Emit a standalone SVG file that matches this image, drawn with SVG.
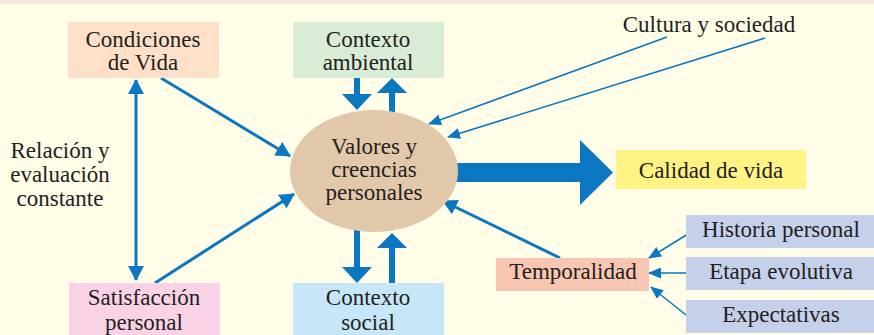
<svg xmlns="http://www.w3.org/2000/svg" width="874" height="335" viewBox="0 0 874 335">
<style>
text{font-family:"Liberation Serif","Times New Roman",serif;font-size:23px;fill:#231f20;text-anchor:middle}
.lbl{text-anchor:middle}
.c{stroke:#0a77c0;fill:none}
.m{stroke-width:3}
.t{stroke-width:1.6}
.blk{fill:#0a77c0}
</style>
<defs>
<marker id="am" viewBox="0 0 15 16" refX="14" refY="8" markerWidth="15" markerHeight="16" markerUnits="userSpaceOnUse" orient="auto-start-reverse">
<path d="M0,0 L15,8 L0,16 z" fill="#0a77c0"/>
</marker>
<marker id="at" viewBox="0 0 13 11" refX="12" refY="5.5" markerWidth="13" markerHeight="11" markerUnits="userSpaceOnUse" orient="auto">
<path d="M0,0 L13,5.5 L0,11 z" fill="#0a77c0"/>
</marker>
</defs>
<rect x="0" y="0" width="874" height="335" fill="#fffde8"/>
<rect x="0" y="0" width="874" height="4" fill="#f3e6dc"/>
<g id="connectors">
<line class="c m" x1="136" y1="80" x2="136" y2="280" marker-start="url(#am)" marker-end="url(#am)"/>
<line class="c m" x1="161" y1="78" x2="290" y2="156" marker-end="url(#am)"/>
<line class="c m" x1="155" y1="283" x2="294" y2="194" marker-end="url(#am)"/>
<line class="c m" x1="560" y1="258" x2="443" y2="201" marker-end="url(#am)"/>
<line class="c t" x1="667" y1="37" x2="429" y2="124" marker-end="url(#at)"/>
<line class="c t" x1="765" y1="38" x2="448" y2="137" marker-end="url(#at)"/>
<line class="c t" x1="688" y1="234" x2="649" y2="258" marker-end="url(#at)"/>
<line class="c t" x1="686" y1="273" x2="649" y2="273" marker-end="url(#at)"/>
<line class="c t" x1="686" y1="315" x2="651" y2="287" marker-end="url(#at)"/>
<rect class="blk" x="354" y="78" width="6" height="17"/>
<polygon class="blk" points="342,94 372,94 357,110"/>
<rect class="blk" x="389" y="92" width="6" height="20"/>
<polygon class="blk" points="377,93 407,93 392,78"/>
<rect class="blk" x="354" y="225" width="6" height="43"/>
<polygon class="blk" points="342,267 372,267 357,283"/>
<rect class="blk" x="389" y="247" width="6" height="37"/>
<polygon class="blk" points="377,248 407,248 392,233"/>
<rect class="blk" x="440" y="163" width="141" height="19"/>
<polygon class="blk" points="580,140 613,172.5 580,205"/>
</g>
<g id="condiciones">
<rect x="68" y="22" width="151" height="56" fill="#fde0c7"/>
<text x="143" y="47">Condiciones</text>
<text x="143" y="70">de Vida</text>
</g>
<g id="contexto-ambiental">
<rect x="293" y="22" width="151" height="56" fill="#d9ecd5"/>
<text x="368" y="47">Contexto</text>
<text x="368" y="70">ambiental</text>
</g>
<g id="cultura">
<text x="709" y="32">Cultura y sociedad</text>
</g>
<g id="relacion">
<text x="60" y="158">Relación y</text>
<text x="60" y="182">evaluación</text>
<text x="60" y="206">constante</text>
</g>
<g id="valores">
<ellipse cx="374" cy="171" rx="84" ry="61" fill="#e2c8ab"/>
<text x="374" y="154">Valores y</text>
<text x="374" y="177">creencias</text>
<text x="374" y="200">personales</text>
</g>
<g id="calidad">
<rect x="616" y="150" width="190" height="39" fill="#fff385"/>
<text x="711" y="178">Calidad de vida</text>
</g>
<g id="satisfaccion">
<rect x="69" y="283" width="151" height="52" fill="#f9d3e5"/>
<text x="144" y="305">Satisfacción</text>
<text x="144" y="330">personal</text>
</g>
<g id="contexto-social">
<rect x="293" y="283" width="151" height="52" fill="#c7e6f8"/>
<text x="368" y="305">Contexto</text>
<text x="368" y="330">social</text>
</g>
<g id="temporalidad">
<rect x="496" y="258" width="153" height="33" fill="#f9c6b1"/>
<text x="573" y="279">Temporalidad</text>
</g>
<g id="historia">
<rect x="686" y="215" width="188" height="33" fill="#c5d0ea"/>
<text x="781" y="237">Historia personal</text>
</g>
<g id="etapa">
<rect x="686" y="257" width="188" height="33" fill="#c5d0ea"/>
<text x="781" y="279">Etapa evolutiva</text>
</g>
<g id="expectativas">
<rect x="686" y="300" width="188" height="33" fill="#c5d0ea"/>
<text x="781" y="322">Expectativas</text>
</g>
</svg>
